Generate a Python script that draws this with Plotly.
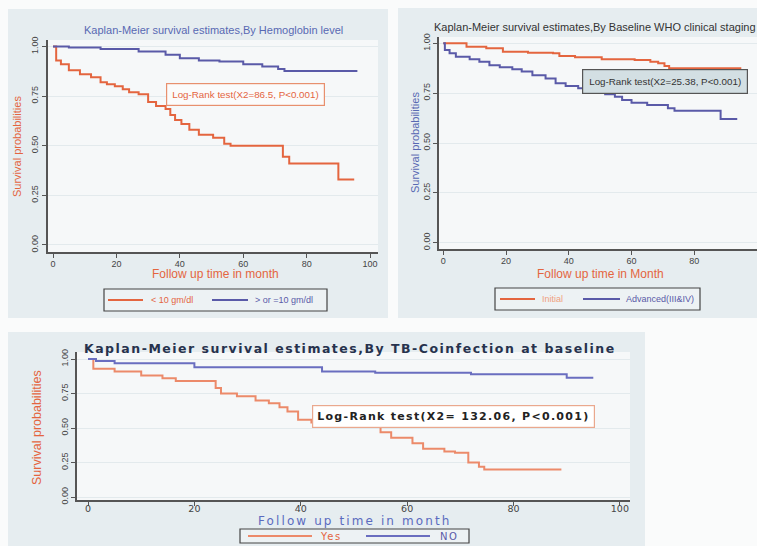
import plotly.graph_objects as go

W, H = 757, 546

# ---------------- data ----------------
hb_low_t = [0, 1, 2.5, 5, 8.5, 12, 15, 17, 19.5, 22, 24, 27, 30, 32.5, 35.5, 37, 38.5, 40.5,
            43, 46, 50.5, 54, 56, 72.5, 74.5, 90, 95]
hb_low_s = [1.00, 0.93, 0.91, 0.88, 0.86, 0.845, 0.82, 0.81, 0.80, 0.785, 0.77, 0.76, 0.72,
            0.70, 0.685, 0.655, 0.63, 0.61, 0.58, 0.555, 0.54, 0.51, 0.50, 0.445, 0.41, 0.33, 0.33]
hb_high_t = [0, 5, 15, 27, 35.5, 40, 46, 52.5, 60, 66, 71, 73, 96]
hb_high_s = [1.00, 0.995, 0.987, 0.975, 0.958, 0.941, 0.929, 0.924, 0.911, 0.899, 0.887, 0.877, 0.877]

who_early_t = [0, 7.4, 13.7, 19, 27, 35, 37, 42, 50.5, 61, 66, 68.5, 70.5, 72, 95]
who_early_s = [1.00, 0.983, 0.975, 0.958, 0.953, 0.95, 0.936, 0.93, 0.92, 0.916, 0.908, 0.90,
               0.886, 0.875, 0.875]
who_adv_t = [0, 0.5, 2, 4, 8.4, 11.5, 14.7, 18, 22, 25, 28.4, 32.6, 35.8, 39, 43, 47.4, 51.6,
             54.7, 57, 60, 65, 71.6, 73.7, 88.4, 93.7]
who_adv_s = [1.00, 0.967, 0.95, 0.933, 0.92, 0.908, 0.89, 0.88, 0.87, 0.858, 0.84, 0.824, 0.80,
             0.786, 0.774, 0.757, 0.744, 0.732, 0.716, 0.702, 0.69, 0.674, 0.662, 0.62, 0.62]

tb_yes_t = [0, 1, 5, 10, 14, 16.5, 24, 25, 28, 31.5, 34, 36, 37.5, 39.5, 42, 47, 51, 55, 57,
            61, 63, 67, 69, 71.5, 73.5, 74.5, 89]
tb_yes_s = [1.00, 0.93, 0.91, 0.88, 0.86, 0.84, 0.79, 0.75, 0.73, 0.70, 0.68, 0.65, 0.62, 0.56,
            0.54, 0.53, 0.51, 0.47, 0.43, 0.39, 0.35, 0.33, 0.32, 0.25, 0.22, 0.20, 0.20]
tb_no_t = [0, 1.5, 5, 20, 43, 44, 54, 72, 90, 95]
tb_no_s = [1.00, 0.986, 0.97, 0.94, 0.94, 0.91, 0.90, 0.89, 0.865, 0.865]

x_ticks = [0, 20, 40, 60, 80, 100]
y_ticks = [0, 0.25, 0.5, 0.75, 1.0]
y_ticklabels = ["0.00", "0.25", "0.50", "0.75", "1.00"]

names_hb = ["< 10 gm/dl", "> or =10 gm/dl"]
names_who = ["Initial", "Advanced(III&IV)"]
names_tb = ["Yes", "NO"]

titles = ["Kaplan-Meier survival estimates,By Hemoglobin level",
          "Kaplan-Meier survival estimates,By Baseline WHO clinical staging",
          "Kaplan-Meier survival estimates,By TB-Coinfection at baseline"]
logrank = ["Log-Rank test(X2=86.5, P<0.001)",
           "Log-Rank test(X2=25.38, P<0.001)",
           "Log-Rank test(X2= 132.06, P<0.001)"]

# ---------------- styles ----------------
ORANGE = "#e4653f"
BLUE = "#5a5aa8"
TBLUE = "#5869b3"
TB_ORANGE = "#ec8a6a"
TB_BLUE = "#6a6ec0"
PANEL = "#e6edf0"
PLOTBG = "#f6f8f9"
ARIAL = "Liberation Sans, Arial, sans-serif"
BOLD = "DejaVu Sans, Verdana, sans-serif"
NARROW = "Liberation Sans Narrow, Arial Narrow, Liberation Sans"


def px(x):
    return x / W


def py(y):
    return 1 - y / H


def esc(text):
    return text.replace("&", "&amp;").replace("<", "&lt;").replace(">", "&gt;")


fig = go.Figure()


def add_step(t, s, name, color, xa, ya):
    fig.add_trace(go.Scatter(x=t, y=s, mode="lines", line=dict(color=color, width=2, shape="hv"),
                             name=name, xaxis=xa, yaxis=ya, showlegend=False, hoverinfo="x+y"))


add_step(hb_low_t, hb_low_s, names_hb[0], ORANGE, "x", "y")
add_step(hb_high_t, hb_high_s, names_hb[1], BLUE, "x", "y")
add_step(who_early_t, who_early_s, names_who[0], ORANGE, "x2", "y2")
add_step(who_adv_t, who_adv_s, names_who[1], BLUE, "x2", "y2")
add_step(tb_yes_t, tb_yes_s, names_tb[0], TB_ORANGE, "x3", "y3")
add_step(tb_no_t, tb_no_s, names_tb[1], TB_BLUE, "x3", "y3")


def xaxis(dom, rng, anchor, fsize, family, standoff):
    return dict(domain=dom, range=rng, anchor=anchor, tickvals=x_ticks, ticks="outside", ticklen=4,
                tickcolor="#555", showline=True, linecolor="#555", linewidth=1.5,
                showgrid=False, zeroline=False, ticklabelstandoff=standoff,
                tickfont=dict(size=fsize, color="#444", family=family), fixedrange=True)


def yaxis(dom, rng, anchor, fsize, family):
    return dict(domain=dom, range=rng, anchor=anchor, tickvals=y_ticks, ticktext=y_ticklabels,
                ticks="outside", ticklen=4, tickcolor="#555", showline=True, linecolor="#555",
                linewidth=1.5, showgrid=True, gridcolor="#e3eaed", gridwidth=1, zeroline=False,
                tickangle=-90, tickfont=dict(size=fsize, color="#444", family=family),
                fixedrange=True)


# plot-region pixel boxes (left, right, top, bottom)
TL = (47.7, 378, 40, 252)
TR = (439, 757, 37, 249)
BT = (77, 630, 352, 500)

fig.update_layout(
    width=W, height=H, margin=dict(l=0, r=0, t=0, b=0, autoexpand=False),
    paper_bgcolor="#fafbfb", plot_bgcolor="rgba(0,0,0,0)", showlegend=False,
    xaxis=xaxis([px(TL[0]), px(TL[1])], [-1.67, 102.5], "y", 9, ARIAL, -2),
    yaxis=yaxis([py(TL[3]), py(TL[2])], [-0.0353, 1.0327], "x", 9, ARIAL),
    xaxis2=xaxis([px(TR[0]), px(TR[1])], [-1.37, 100], "y2", 9, ARIAL, -2),
    yaxis2=yaxis([py(TR[3]), py(TR[2])], [-0.0316, 1.0316], "x2", 9, ARIAL),
    xaxis3=xaxis([px(BT[0]), px(BT[1])], [-2.07, 101.9], "y3", 9.5, BOLD, -5),
    yaxis3=yaxis([py(BT[3]), py(BT[2])], [-0.0217, 1.0507], "x3", 9, NARROW),
)

# panel backgrounds and plot regions
shapes = []
for (x0, x1, y0, y1) in [(8, 388, 9, 318), (398, 757, 8, 318), (8, 645, 332, 546)]:
    shapes.append(dict(type="rect", xref="paper", yref="paper", x0=px(x0), x1=px(x1),
                       y0=py(y1), y1=py(y0), fillcolor=PANEL, line=dict(width=0), layer="below"))
for xr, yr in [("x", "y"), ("x2", "y2"), ("x3", "y3")]:
    shapes.append(dict(type="rect", xref=f"{xr} domain", yref=f"{yr} domain", x0=0, x1=1, y0=0,
                       y1=1, fillcolor=PLOTBG, line=dict(width=0), layer="below"))

ann = []


def A(text, x, y, size, color, family=ARIAL, angle=0, xanchor="center", **kw):
    ann.append(dict(text=text, x=px(x), y=py(y), xref="paper", yref="paper", showarrow=False,
                    font=dict(size=size, color=color, family=family), textangle=angle,
                    xanchor=xanchor, yanchor="middle", **kw))


# ---- legends (Stata-style boxed keys below each panel) ----
def legend_box(box, keys, size, family, spacing=0):
    x0, x1, y0, y1 = box
    shapes.append(dict(type="rect", xref="paper", yref="paper", x0=px(x0), x1=px(x1),
                       y0=py(y1), y1=py(y0), fillcolor="#edf2f4",
                       line=dict(color="#444", width=1.2), layer="above"))
    yc = (y0 + y1) / 2
    for (lx0, lx1, tx, label, lcolor, tcolor) in keys:
        shapes.append(dict(type="line", xref="paper", yref="paper", x0=px(lx0), x1=px(lx1),
                           y0=py(yc), y1=py(yc), line=dict(color=lcolor, width=2),
                           layer="above"))
        txt = esc(label)
        if spacing:
            txt = f"<span style='letter-spacing:{spacing}px'>{txt}</span>"
        A(txt, tx, yc, size, tcolor, family=family, xanchor="left")


legend_box((104, 327, 289, 311),
           [(108, 143, 149, names_hb[0], ORANGE, ORANGE),
            (212, 248, 253, names_hb[1], BLUE, BLUE)], 9, ARIAL)
legend_box((495, 700, 288, 310),
           [(500, 535, 540, names_who[0], ORANGE, "#f0a080"),
            (583, 620, 624, names_who[1], BLUE, BLUE)], 9, ARIAL)
legend_box((240, 469, 529, 543),
           [(248, 312, 318, names_tb[0], TB_ORANGE, ORANGE),
            (366, 430, 438, names_tb[1], TB_BLUE, BLUE)], 10, BOLD, 1.5)
fig.update_layout(shapes=shapes)

# titles
A(titles[0], 213, 30, 11, TBLUE)
A(titles[1], 432, 27, 11, "#333", xanchor="left")
A(f"<span style='letter-spacing:1.5px'><b>{titles[2]}</b></span>", 350, 348, 12.5, "#27324d",
  family=BOLD)
# y-axis titles
A("Survival probabilities", 17, 147, 11, ORANGE, angle=-90)
A("Survival probabilities", 415, 143, 11, TBLUE, angle=-90)
A("Survival probabilities", 37, 428, 12.5, ORANGE, family=NARROW, angle=-90)
# x-axis titles
A("Follow up time in month", 215, 274, 12, ORANGE)
A("Follow up time in Month", 600, 274, 12, ORANGE)
A("<span style='letter-spacing:2.1px'>Follow up time in month</span>", 354, 521, 12,
  "#5b6bbf", family=BOLD)
# log-rank boxes
A(esc(logrank[0]), 245.5, 94.5, 9.8, ORANGE, bordercolor="#e8906e", borderwidth=1.2, borderpad=5,
  bgcolor="#fbfbfb")
A(esc(logrank[1]), 664.5, 81.5, 9.8, "#333", bordercolor="#555", borderwidth=1.2, borderpad=6,
  bgcolor="#d3dfe3")
A(f"<span style='letter-spacing:1.3px'><b>{esc(logrank[2])}</b></span>", 453.5, 416, 11,
  "#222", family=BOLD, bordercolor="#eaa88e", borderwidth=1.2, borderpad=4, bgcolor="#ffffff")
fig.update_layout(annotations=ann)

fig.write_html("out.html", config={"displayModeBar": False},
               post_script="document.body.style.margin='0';")
